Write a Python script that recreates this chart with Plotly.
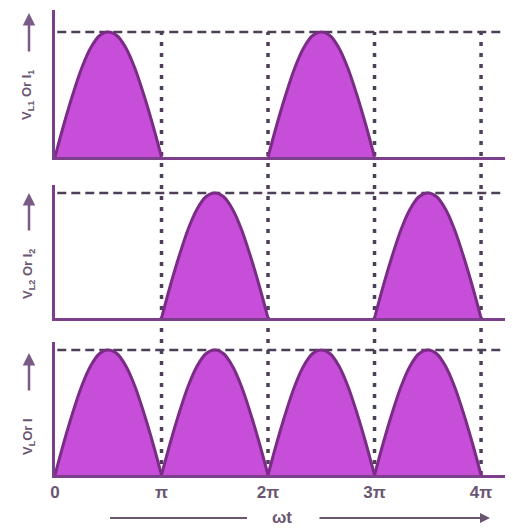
import math
import plotly.graph_objects as go

PI = math.pi

# ---- data ----
tick_multiples = [0, 1, 2, 3, 4]
tick_labels = ["0", "π", "2π", "3π", "4π"]
half_cycle_phase = [0, 0.083, 0.167, 0.25, 0.333, 0.417, 0.5, 0.583, 0.667, 0.75, 0.833, 0.917, 1.0]
half_cycle_level = [0, 0.26, 0.5, 0.71, 0.87, 0.97, 1.0, 0.97, 0.87, 0.71, 0.5, 0.26, 0]
panel1_starts = [0, 2]          # half-cycles conducted by diode 1 (in units of π)
panel2_starts = [1, 3]          # half-cycles conducted by diode 2
panel3_starts = [0, 1, 2, 3]    # load output
peak_level = 1.0
y_labels = ["V<sub>L1</sub> Or I<sub>1</sub>", "V<sub>L2</sub> Or I<sub>2</sub>", "V<sub>L</sub>Or I"]
x_title = "ωt"

# ---- style ----
FILL = "#C64ED8"
EDGE = "#7A2C86"
AXIS = "#7C3F8C"
GUIDE = "#4E3E58"
TEXT = "#6A5672"
OFF = 8  # page body margin
W, H = 513 - OFF, 528 - OFF
ML, MR, MT = 55 - OFF, 0, 10 - OFF
MB = H - (475 - OFF)
plot_w = W - ML - MR
plot_h = H - MT - MB

x_max = 4.30 * PI
domains = [[0.6839, 1.0], [0.3376, 0.6237], [0.0, 0.286]]
y_tops = [1.176, 1.064, 1.064]
starts = [panel1_starts, panel2_starts, panel3_starts]

def px_x(p):
    return (p - OFF - ML) / plot_w

def px_y(p):
    return (H - MB - (p - OFF)) / plot_h

fig = go.Figure()
for i, st in enumerate(starts):
    xa = "x" if i == 0 else f"x{i+1}"
    ya = "y" if i == 0 else f"y{i+1}"
    for s in st:
        xs = [(s + f) * PI for f in half_cycle_phase]
        fig.add_trace(go.Scatter(
            x=xs, y=half_cycle_level, mode="lines", line_shape="spline",
            fill="toself", fillcolor=FILL, line=dict(color=EDGE, width=3),
            xaxis=xa, yaxis=ya, showlegend=False, hoverinfo="skip"))

layout = dict(width=W, height=H, autosize=False,
              margin=dict(l=ML, r=MR, t=MT, b=MB),
              plot_bgcolor="white", paper_bgcolor="white", showlegend=False)
for i in range(3):
    xk = "xaxis" if i == 0 else f"xaxis{i+1}"
    yk = "yaxis" if i == 0 else f"yaxis{i+1}"
    ya = "y" if i == 0 else f"y{i+1}"
    xa = "x" if i == 0 else f"x{i+1}"
    layout[xk] = dict(range=[0, x_max], anchor=ya, showgrid=False, zeroline=False,
                      showline=True, linecolor=AXIS, linewidth=3, ticks="",
                      showticklabels=(i == 2), fixedrange=True)
    if i == 2:
        layout[xk].update(tickvals=[m * PI for m in tick_multiples],
                          ticktext=[f"<b>{t}</b>" for t in tick_labels],
                          tickfont=dict(family="Liberation Sans", size=17, color=TEXT))
    layout[yk] = dict(domain=domains[i], range=[0, y_tops[i]], anchor=xa,
                      showgrid=False, zeroline=False, showline=True, linecolor=AXIS,
                      linewidth=3, ticks="", showticklabels=False, fixedrange=True)
fig.update_layout(**layout)

shapes = []
# dashed peak lines
for i in range(3):
    xa = "x" if i == 0 else f"x{i+1}"
    ya = "y" if i == 0 else f"y{i+1}"
    shapes.append(dict(type="line", xref=f"{xa} domain", yref=ya, x0=0.005, x1=1,
                       y0=peak_level, y1=peak_level, layer="below",
                       line=dict(color=GUIDE, width=2.5, dash="9px,5px")))
# dotted verticals at multiples of π
top_paper = domains[0][0] + peak_level / y_tops[0] * (domains[0][1] - domains[0][0])
for m in tick_multiples[1:]:
    shapes.append(dict(type="line", xref="x3", yref="paper", x0=m * PI, x1=m * PI,
                       y0=0, y1=top_paper, layer="below",
                       line=dict(color=GUIDE, width=3.5, dash="4px,7px")))
# left part of the ωt arrow
shapes.append(dict(type="line", xref="paper", yref="paper", x0=px_x(110), x1=px_x(247),
                   y0=px_y(518), y1=px_y(518), line=dict(color=TEXT, width=2)))
fig.update_layout(shapes=shapes)

ann = []
label_centers = [95, 274, 437]
arrow_heads = [13, 193, 353]
arrow_tails = [53, 232, 392]
for i in range(3):
    ann.append(dict(xref="paper", yref="paper", x=px_x(28), y=px_y(label_centers[i]),
                    xanchor="center", yanchor="middle",
                    text=f"<b>{y_labels[i]}</b>", textangle=-90, showarrow=False,
                    font=dict(family="Liberation Sans", size=13, color=TEXT)))
    ann.append(dict(xref="paper", yref="paper", x=px_x(29), y=px_y(arrow_heads[i]),
                    ax=0, ay=arrow_tails[i] - arrow_heads[i], text="", showarrow=True,
                    arrowhead=2, arrowsize=1, arrowwidth=2.5, arrowcolor="#7A5A86"))
ann.append(dict(xref="paper", yref="paper", x=px_x(282), y=px_y(517), text=f"<b>{x_title}</b>",
                xanchor="center", yanchor="middle",
                showarrow=False, font=dict(family="Liberation Sans", size=17, color=TEXT)))
ann.append(dict(xref="paper", yref="paper", x=px_x(490), y=px_y(518), ax=-172, ay=0,
                text="", showarrow=True, arrowhead=2, arrowsize=1, arrowwidth=2,
                arrowcolor=TEXT))
fig.update_layout(annotations=ann)

fig.write_html("out.html")
